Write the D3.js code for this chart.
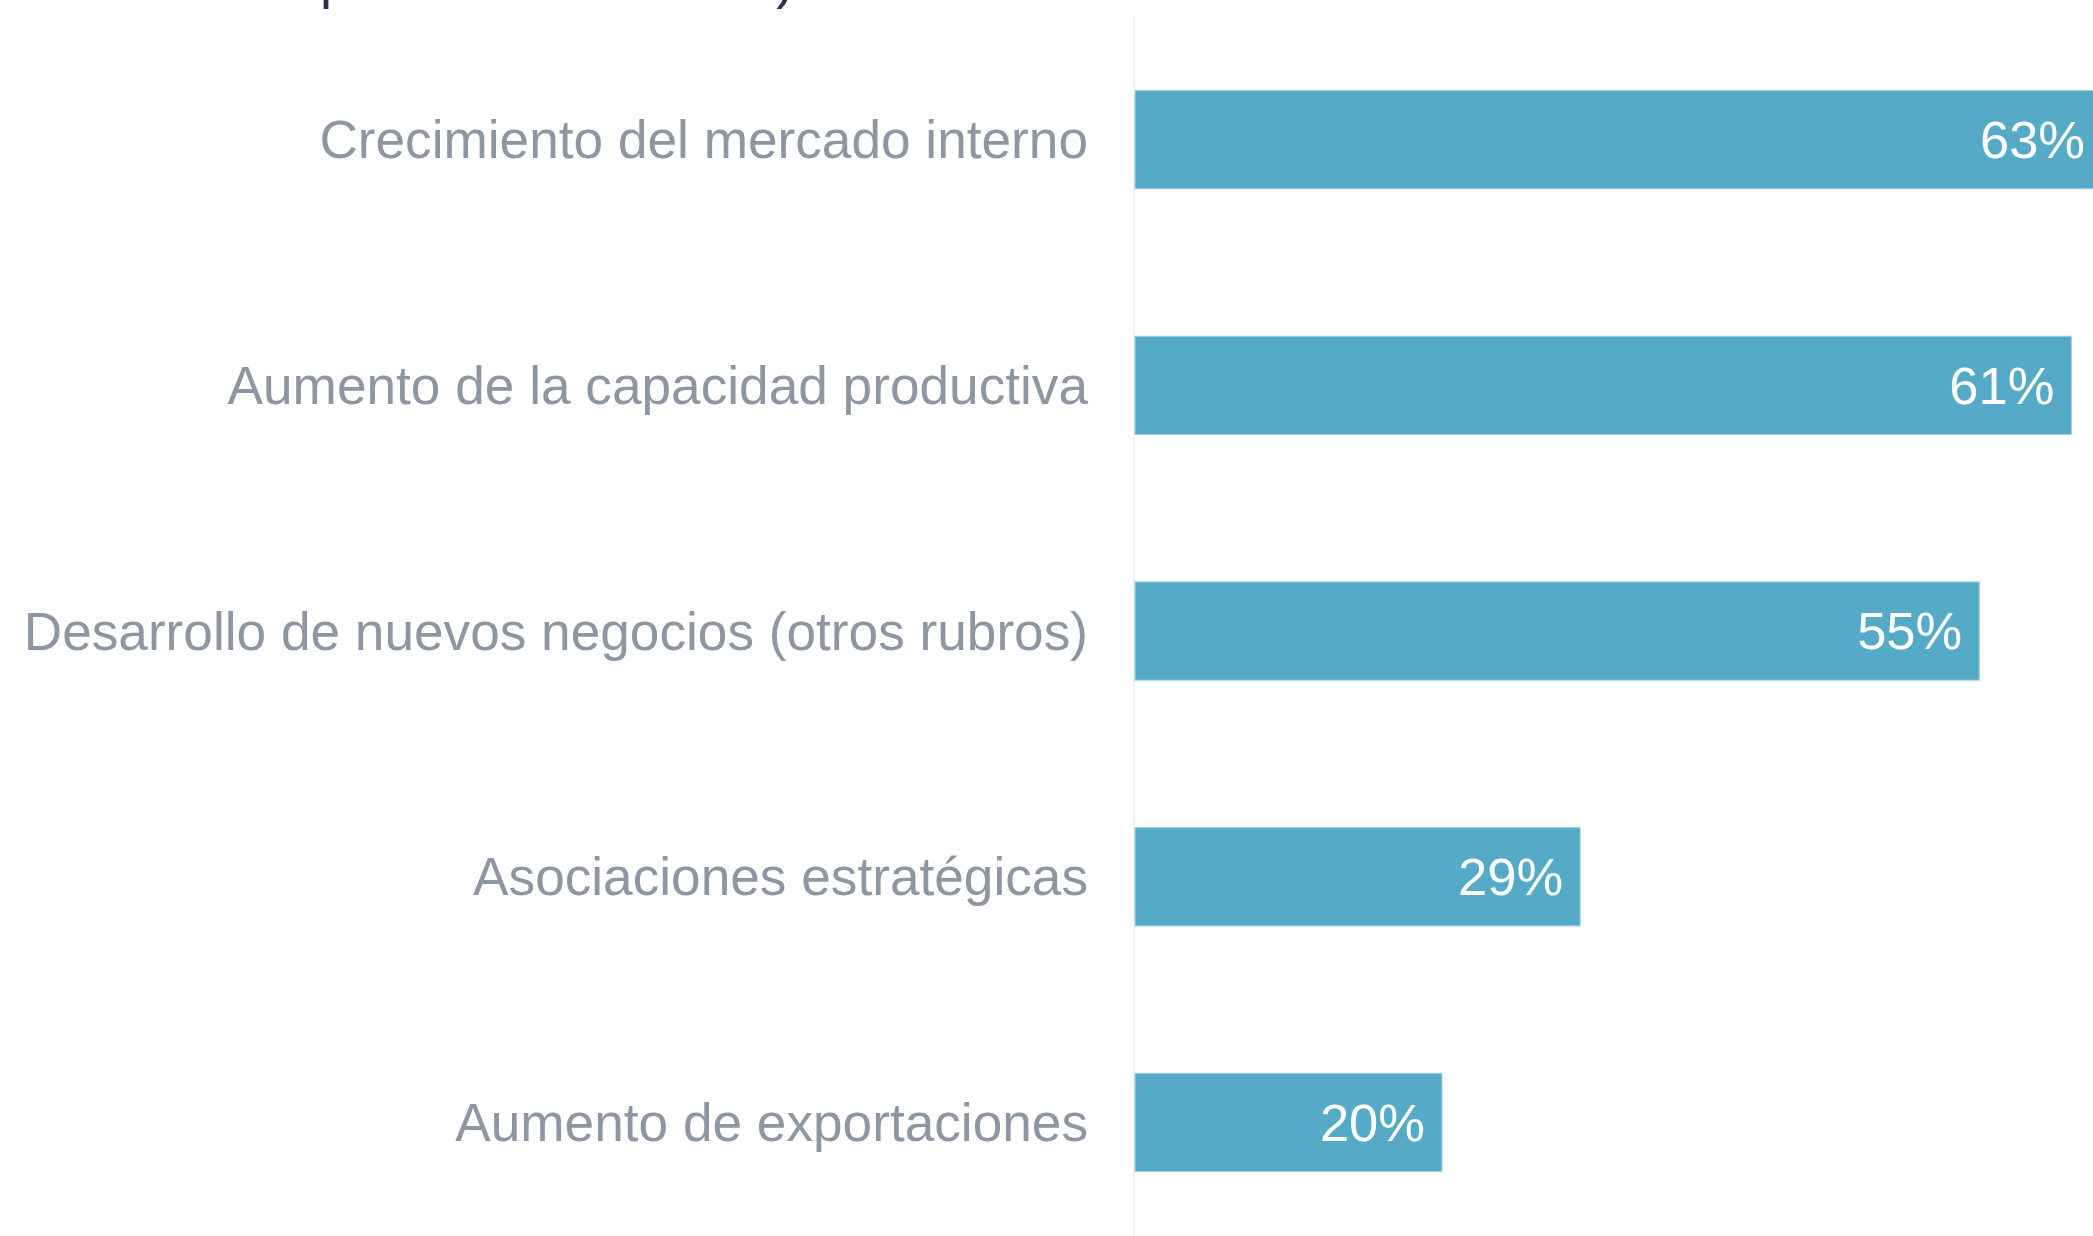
<!doctype html>
<html>
<head>
<meta charset="UTF-8">
<title>Motivos de expansión</title>
<script src="https://d3js.org/d3.v7.min.js"></script>
<style>
  body { margin: 0; background: #ffffff; }
  svg { display: block; font-family: "Liberation Sans", Arial, sans-serif; }
</style>
</head>
<body>
<div id="chart"></div>
<script>
// data
var categories = [
  "Crecimiento del mercado interno",
  "Aumento de la capacidad productiva",
  "Desarrollo de nuevos negocios (otros rubros)",
  "Asociaciones estratégicas",
  "Aumento de exportaciones"
];
var values = [63, 61, 55, 29, 20];
var valueLabels = ["63%", "61%", "55%", "29%", "20%"];
var titleText = "en los próximos tres años)";

var W = 2093, H = 1236;

var svg = d3.select("#chart")
  .append("svg")
  .attr("width", W)
  .attr("height", H);

var x = d3.scaleLinear()
  .domain([0, 100])
  .range([1135, 1135 + 1535]);

var y = d3.scaleBand()
  .domain(categories)
  .range([16.8, 1245.3])
  .paddingInner(0.6)
  .paddingOuter(0.3);

// title (only its descenders show at the top edge)
svg.append("text")
  .attr("x", 161)
  .attr("y", -2)
  .attr("font-size", 54)
  .attr("fill", "#2b3050")
  .text(titleText);

// faint baseline
svg.append("line")
  .attr("x1", x(0) - 1).attr("x2", x(0) - 1)
  .attr("y1", 16).attr("y2", H)
  .attr("stroke", "#f3f3f3")
  .attr("stroke-width", 2);

var rows = svg.selectAll("g.row")
  .data(categories)
  .enter().append("g")
  .attr("class", "row");

rows.append("rect")
  .attr("x", x(0))
  .attr("y", function(d) { return y(d); })
  .attr("width", function(d, i) { return x(values[i]) - x(0); })
  .attr("height", y.bandwidth())
  .attr("fill", "#55abc7")
  .attr("stroke", "#9fd0e0")
  .attr("stroke-width", 1);

rows.append("text")
  .attr("x", x(0) - 47)
  .attr("y", function(d) { return y(d) + y.bandwidth() / 2; })
  .attr("dy", "0.35em")
  .attr("text-anchor", "end")
  .attr("font-size", 53.2)
  .attr("fill", "#8f96a3")
  .text(function(d) { return d; });

rows.append("text")
  .attr("x", function(d, i) { return x(values[i]) - 17; })
  .attr("y", function(d) { return y(d) + y.bandwidth() / 2; })
  .attr("dy", "0.35em")
  .attr("text-anchor", "end")
  .attr("font-size", 52.5)
  .attr("fill", "#ffffff")
  .text(function(d, i) { return valueLabels[i]; });
</script>
</body>
</html>
